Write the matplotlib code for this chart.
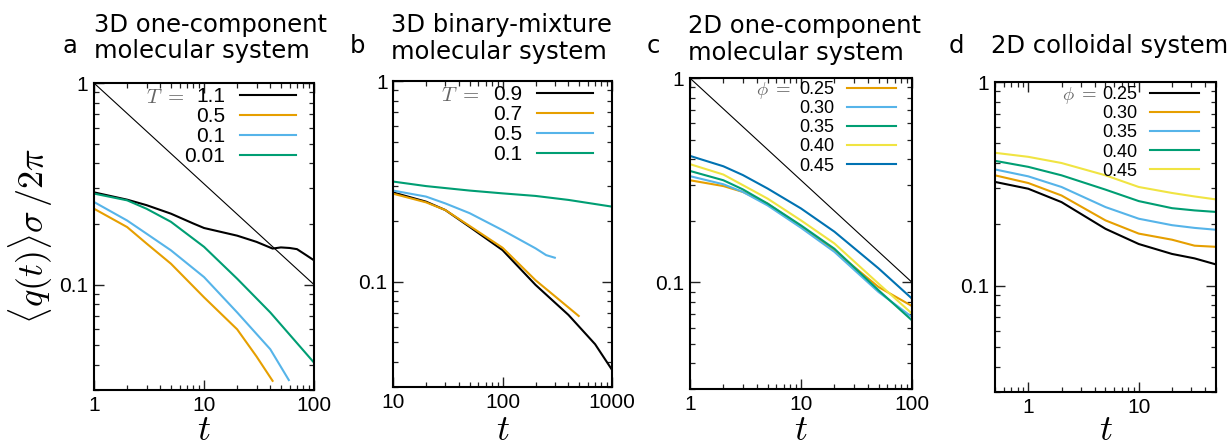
import numpy as np
import matplotlib
matplotlib.use('Agg')
import matplotlib.pyplot as plt

plt.rcParams['mathtext.fontset'] = 'cm'
plt.rcParams['font.family'] = ['Liberation Sans', 'DejaVu Sans']

black = '#000000'
orange = '#E69F00'
skyblue = '#56B4E9'
green = '#009E73'
yellow = '#F0E442'
blue = '#0072B2'

# guide line  ~ t^-1/2
guide_t = [1, 100]
guide_q = [1.0, 0.1]

# panel a : 3D one-component
a_labels = ['1.1', '0.5', '0.1', '0.01']
a_t11 = [1, 2, 3, 5, 8, 10, 20, 30, 42, 50, 60, 70, 85, 100]
a_q11 = [0.287, 0.264, 0.248, 0.225, 0.201, 0.191, 0.175, 0.163, 0.151, 0.153, 0.152, 0.150, 0.140, 0.132]
a_t05 = [1, 2, 3, 5, 10, 20, 30, 42]
a_q05 = [0.238, 0.193, 0.160, 0.127, 0.0865, 0.060, 0.044, 0.0333]
a_t01 = [1, 2, 3, 5, 10, 20, 40, 59]
a_q01 = [0.257, 0.208, 0.179, 0.148, 0.109, 0.0728, 0.0478, 0.0336]
a_t001 = [1, 2, 3, 5, 10, 20, 40, 100]
a_q001 = [0.283, 0.262, 0.238, 0.205, 0.154, 0.107, 0.0728, 0.041]

# panel b : 3D binary mixture
b_labels = ['0.9', '0.7', '0.5', '0.1']
b_t09 = [10, 20, 30, 50, 100, 200, 400, 700, 1000]
b_q09 = [0.279, 0.251, 0.228, 0.188, 0.144, 0.0967, 0.0685, 0.049, 0.0365]
b_t07 = [10, 20, 30, 50, 100, 200, 300, 496]
b_q07 = [0.275, 0.249, 0.228, 0.190, 0.148, 0.102, 0.085, 0.0677]
b_t05 = [10, 20, 30, 50, 100, 200, 250, 300]
b_q05 = [0.285, 0.266, 0.246, 0.220, 0.181, 0.147, 0.136, 0.132]
b_t01 = [10, 20, 50, 100, 200, 400, 1000]
b_q01 = [0.316, 0.300, 0.285, 0.276, 0.268, 0.256, 0.237]

# panel c : 2D one-component
c_labels = ['0.25', '0.30', '0.35', '0.40', '0.45']
c_t = [1, 2, 3, 5, 10, 20, 50, 100]
c_q25 = [0.316, 0.296, 0.277, 0.243, 0.188, 0.143, 0.0948, 0.0765]
c_q30 = [0.331, 0.302, 0.277, 0.238, 0.185, 0.141, 0.0896, 0.0676]
c_q35 = [0.351, 0.316, 0.285, 0.243, 0.190, 0.146, 0.0914, 0.0651]
c_q40 = [0.379, 0.337, 0.299, 0.257, 0.201, 0.155, 0.0985, 0.0703]
c_q45 = [0.416, 0.370, 0.335, 0.288, 0.230, 0.177, 0.117, 0.0832]

# panel d : 2D colloidal
d_labels = ['0.25', '0.30', '0.35', '0.40', '0.45']
d_t = [0.5, 1, 2, 5, 10, 20, 32, 50]
d_q25 = [0.323, 0.299, 0.257, 0.190, 0.160, 0.143, 0.136, 0.127]
d_q30 = [0.348, 0.319, 0.277, 0.209, 0.180, 0.168, 0.157, 0.155]
d_q35 = [0.372, 0.344, 0.305, 0.243, 0.213, 0.198, 0.192, 0.188]
d_q40 = [0.410, 0.383, 0.348, 0.296, 0.260, 0.240, 0.234, 0.230]
d_q45 = [0.449, 0.429, 0.400, 0.348, 0.305, 0.285, 0.274, 0.265]

fig = plt.figure(figsize=(12.31, 4.46), dpi=100)

boxes = [
    [0.0764, 0.1256, 0.1787, 0.688],
    [0.3193, 0.1323, 0.1779, 0.686],
    [0.5605, 0.1278, 0.1803, 0.697],
    [0.8083, 0.1211, 0.1795, 0.695],
]
axes = [fig.add_axes(b) for b in boxes]
lw = 1.5

ax = axes[0]
ax.plot(guide_t, guide_q, color='k', lw=0.8)
ax.plot(a_t11, a_q11, color=black, lw=lw, label=a_labels[0])
ax.plot(a_t05, a_q05, color=orange, lw=lw, label=a_labels[1])
ax.plot(a_t01, a_q01, color=skyblue, lw=lw, label=a_labels[2])
ax.plot(a_t001, a_q001, color=green, lw=lw, label=a_labels[3])
ax.set_xlim(1, 100)

ax = axes[1]
ax.plot(b_t09, b_q09, color=black, lw=lw, label=b_labels[0])
ax.plot(b_t07, b_q07, color=orange, lw=lw, label=b_labels[1])
ax.plot(b_t05, b_q05, color=skyblue, lw=lw, label=b_labels[2])
ax.plot(b_t01, b_q01, color=green, lw=lw, label=b_labels[3])
ax.set_xlim(10, 1000)

ax = axes[2]
ax.plot(guide_t, guide_q, color='k', lw=0.8)
for q, c, lab in zip([c_q25, c_q30, c_q35, c_q40, c_q45],
                     [orange, skyblue, green, yellow, blue], c_labels):
    ax.plot(c_t, q, color=c, lw=lw, label=lab)
ax.set_xlim(1, 100)

ax = axes[3]
for q, c, lab in zip([d_q25, d_q30, d_q35, d_q40, d_q45],
                     [black, orange, skyblue, green, yellow], d_labels):
    ax.plot(d_t, q, color=c, lw=lw, label=lab)
ax.set_xlim(0.5, 50)
ax.set_xticks([1, 10])

leg_fs = [15, 15, 13, 13]
leg_sp = [0.05, 0.05, 0.12, 0.12]
leg_anchor = [(0.918, 0.987), (0.913, 0.987), (0.928, 0.991), (0.923, 0.987)]
pre_text = ['$T\\ =$', '$T\\ =$', '$\\phi\\ =$', '$\\phi\\ =$']
pre_fs = [15, 15, 13.5, 13.5]
pre_pos = [(0.414, 0.954), (0.397, 0.954), (0.455, 0.961), (0.462, 0.958)]

for i, ax in enumerate(axes):
    ax.set_xscale('log')
    ax.set_yscale('log')
    ax.set_ylim(0.03, 1)
    ax.set_yticks([0.1, 1])
    ax.set_yticklabels(['0.1', '1'])
    ax.xaxis.set_major_formatter(matplotlib.ticker.FuncFormatter(lambda v, p: '%g' % v))
    ax.xaxis.set_minor_formatter(matplotlib.ticker.NullFormatter())
    ax.yaxis.set_minor_formatter(matplotlib.ticker.NullFormatter())
    ax.tick_params(which='both', direction='in', top=True, right=True, labelsize=15, color='#222222')
    ax.tick_params(which='major', length=7, width=1, pad=4)
    ax.tick_params(which='minor', length=3.5, width=0.9)
    for s in ax.spines.values():
        s.set_linewidth(1.5)
    ax.legend(loc='upper right', bbox_to_anchor=leg_anchor[i], frameon=False,
              markerfirst=False, fontsize=leg_fs[i], handlelength=2.7,
              handletextpad=0.7, labelspacing=leg_sp[i], borderpad=0, borderaxespad=0)
    ax.text(pre_pos[i][0], pre_pos[i][1], pre_text[i], transform=ax.transAxes,
            ha='right', va='center', fontsize=pre_fs[i], color='#666666')
    cx = boxes[i][0] + boxes[i][2] / 2
    fig.text(cx, 0.014, '$t$', ha='center', va='baseline', fontsize=26)

fig.text(0.025, 0.471, '$\\langle q(t)\\rangle\\sigma\\,/2\\pi$', rotation=90,
         ha='center', va='center', fontsize=26)

tf = dict(fontsize=17.5, family='DejaVu Sans', va='baseline')
fig.text(0.0504, 0.881, 'a', **tf)
fig.text(0.0764, 0.928, '3D one-component', **tf)
fig.text(0.0764, 0.870, 'molecular system', **tf)
fig.text(0.2843, 0.881, 'b', **tf)
fig.text(0.3176, 0.928, '3D binary-mixture', **tf)
fig.text(0.3176, 0.868, 'molecular system', **tf)
fig.text(0.5256, 0.881, 'c', **tf)
fig.text(0.5589, 0.926, '2D one-component', **tf)
fig.text(0.5589, 0.865, 'molecular system', **tf)
fig.text(0.7709, 0.881, 'd', **tf)
fig.text(0.8050, 0.881, '2D colloidal system', **tf)

fig.savefig('out.png', dpi=100)
